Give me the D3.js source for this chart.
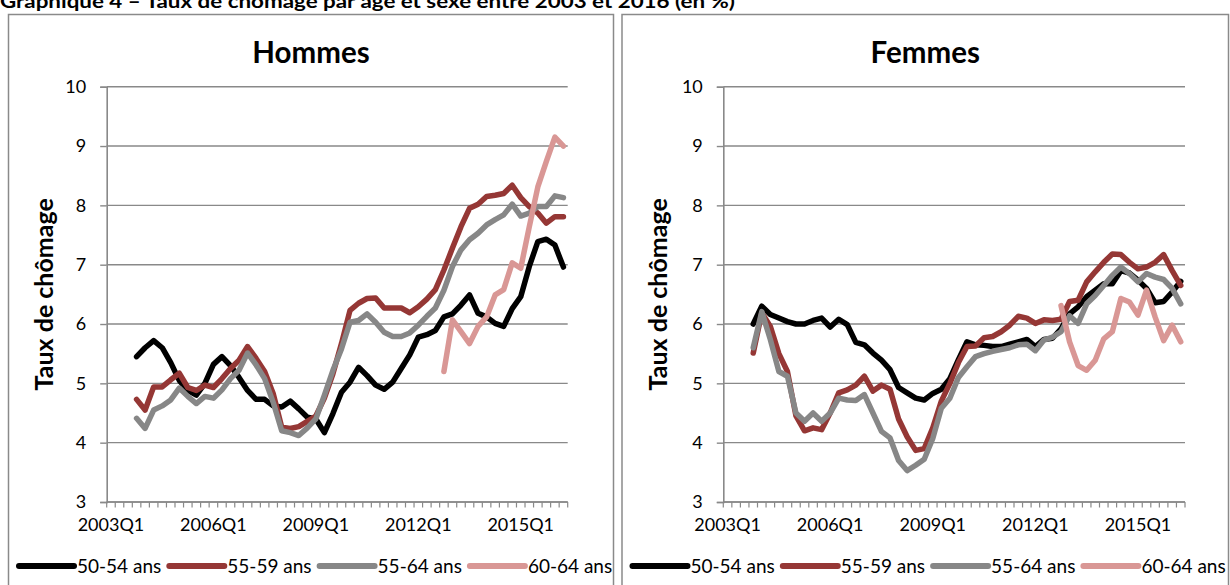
<!DOCTYPE html>
<html><head><meta charset="utf-8">
<script src="https://cdn.jsdelivr.net/npm/d3@7"></script>
<style>
body{margin:0;background:#fff}
svg{display:block}
text{font-family:Lato,"Open Sans",sans-serif;fill:#000}
</style>
</head><body>
<svg id="c" width="1230" height="585"></svg>
<script>
// ---------------- DATA ----------------
const categories = ["2003Q1","2003Q2","2003Q3","2003Q4","2004Q1","2004Q2","2004Q3","2004Q4",
 "2005Q1","2005Q2","2005Q3","2005Q4","2006Q1","2006Q2","2006Q3","2006Q4",
 "2007Q1","2007Q2","2007Q3","2007Q4","2008Q1","2008Q2","2008Q3","2008Q4",
 "2009Q1","2009Q2","2009Q3","2009Q4","2010Q1","2010Q2","2010Q3","2010Q4",
 "2011Q1","2011Q2","2011Q3","2011Q4","2012Q1","2012Q2","2012Q3","2012Q4",
 "2013Q1","2013Q2","2013Q3","2013Q4","2014Q1","2014Q2","2014Q3","2014Q4",
 "2015Q1","2015Q2","2015Q3","2015Q4","2016Q1","2016Q2"];
const xTickLabels = ["2003Q1","2006Q1","2009Q1","2012Q1","2015Q1"];
const yTicks = [3,4,5,6,7,8,9,10];
const seriesNames = ["50-54 ans","55-59 ans","55-64 ans","60-64 ans"];
const panelTitles = ["Hommes","Femmes"];
const yTitle = "Taux de chômage";
const chartTitle = "Graphique 4 – Taux de chômage par âge et sexe entre 2003 et 2016 (en %)";
const startMain = "2003Q4";   // first quarter of the 50-54, 55-59, 55-64 series
const start6064 = "2012Q4";   // first quarter of the 60-64 series

const hommes5054 = [5.45,5.6,5.72,5.6,5.35,5.05,4.88,4.8,5.0,5.32,
 5.45,5.3,5.1,4.88,4.73,4.73,4.62,4.6,4.7,4.57,
 4.43,4.4,4.17,4.49,4.85,5.02,5.27,5.13,4.97,4.9,
 5.02,5.25,5.48,5.78,5.82,5.89,6.12,6.17,6.32,6.49,
 6.18,6.12,6.01,5.96,6.26,6.46,6.97,7.39,7.43,7.33,6.96];
const hommes5559 = [4.73,4.55,4.94,4.94,5.06,5.17,4.93,4.88,4.97,4.93,
 5.08,5.25,5.39,5.62,5.42,5.2,4.83,4.26,4.24,4.27,
 4.36,4.45,4.75,5.16,5.67,6.23,6.35,6.43,6.44,6.27,
 6.27,6.27,6.19,6.29,6.42,6.58,6.91,7.28,7.64,7.95,
 8.02,8.15,8.17,8.2,8.34,8.13,7.98,7.87,7.7,7.81,7.81];
const hommes5564 = [4.41,4.24,4.55,4.62,4.72,4.92,4.78,4.66,4.78,4.75,
 4.89,5.08,5.22,5.51,5.31,5.08,4.68,4.2,4.17,4.12,
 4.25,4.4,4.8,5.22,5.58,6.03,6.06,6.17,6.03,5.86,
 5.79,5.79,5.85,5.98,6.13,6.27,6.57,6.97,7.25,7.42,
 7.53,7.67,7.76,7.84,8.02,7.82,7.87,7.98,7.98,8.16,8.13];
const hommes6064 = [5.2,6.07,5.87,5.67,5.96,6.12,6.49,6.58,7.03,6.94,7.64,8.31,8.74,9.15,9.0];

const femmes5054 = [6.0,6.3,6.16,6.1,6.04,6.0,6.0,6.06,6.1,5.95,
 6.08,5.99,5.69,5.65,5.51,5.39,5.23,4.93,4.84,4.75,
 4.72,4.83,4.9,5.08,5.4,5.7,5.65,5.64,5.62,5.62,
 5.66,5.7,5.74,5.62,5.74,5.76,5.92,6.17,6.29,6.46,
 6.57,6.68,6.68,6.9,6.86,6.74,6.6,6.36,6.38,6.54,6.72];
const femmes5559 = [5.51,6.19,5.96,5.5,5.2,4.45,4.2,4.25,4.22,4.5,
 4.84,4.89,4.97,5.12,4.87,4.97,4.9,4.4,4.1,3.87,
 3.9,4.25,4.7,5.0,5.35,5.62,5.63,5.77,5.79,5.87,
 5.98,6.13,6.1,6.01,6.07,6.06,6.08,6.38,6.4,6.71,
 6.88,7.04,7.18,7.17,7.04,6.93,6.96,7.04,7.17,6.9,6.65];
const femmes5564 = [5.6,6.21,5.74,5.2,5.12,4.5,4.36,4.5,4.36,4.5,
 4.75,4.72,4.71,4.81,4.5,4.19,4.08,3.7,3.53,3.62,
 3.72,4.07,4.58,4.75,5.1,5.28,5.45,5.5,5.54,5.57,
 5.6,5.65,5.66,5.55,5.73,5.78,5.87,6.14,6.01,6.34,
 6.48,6.65,6.82,6.96,6.85,6.71,6.85,6.79,6.75,6.6,6.34];
const femmes6064 = [6.31,5.7,5.3,5.22,5.39,5.75,5.87,6.43,6.37,6.15,6.57,6.12,5.72,5.98,5.7];

const colors = ["#000000","#953735","#878787","#D99795"];

// ---------------- LAYOUT ----------------
const W = 1230, H = 585;
const svg = d3.select("#c");
svg.append("rect").attr("width",W).attr("height",H).attr("fill","#fff");

const gridColor = "#898989";
const plotTop = 86.7, plotBottom = 502;
const panels = [
  {title: panelTitles[0], frameX0: 8.5, frameX1: 613.5, px0: 106.7, px1: 567.7,
   data: [hommes5054, hommes5559, hommes5564, hommes6064]},
  {title: panelTitles[1], frameX0: 622, frameX1: 1228.5, px0: 723.3, px1: 1185,
   data: [femmes5054, femmes5559, femmes5564, femmes6064]}
];
const starts = [startMain, startMain, startMain, start6064];

// chart title (cut at the top like the original)
svg.append("text").attr("x", 0).attr("y", 8)
  .attr("font-size", 19).attr("font-weight", 700)
  .attr("textLength", 735).attr("lengthAdjust", "spacingAndGlyphs")
  .text(chartTitle);

const y = d3.scaleLinear().domain([3, 10]).range([plotBottom, plotTop]);

panels.forEach(p => {
  const g = svg.append("g");
  // frame
  g.append("rect").attr("x", p.frameX0).attr("y", 14.5)
    .attr("width", p.frameX1 - p.frameX0).attr("height", 600)
    .attr("fill", "none").attr("stroke", "#8a8a8a").attr("stroke-width", 1.5);

  const x = d3.scaleBand().domain(categories).range([p.px0, p.px1]).padding(0);
  const cx = c => x(c) + x.bandwidth() / 2;

  // gridlines
  g.append("g").selectAll("line").data(yTicks).join("line")
    .attr("x1", p.px0).attr("x2", p.px1)
    .attr("y1", d => y(d)).attr("y2", d => y(d))
    .attr("stroke", gridColor).attr("stroke-width", 1.4);

  // y axis
  const ya = g.append("g").attr("transform", `translate(${p.px0},0)`)
    .call(d3.axisLeft(y).tickValues(yTicks).tickSize(6.5).tickPadding(14).tickFormat(d3.format("d")));
  ya.select(".domain").attr("stroke", gridColor).attr("stroke-width", 1.6);
  ya.selectAll(".tick line").attr("stroke", gridColor).attr("stroke-width", 1.4);
  ya.selectAll(".tick text").attr("font-size", 18).attr("font-family", "Lato").attr("fill", "#000");

  // x axis line + category ticks
  g.append("line").attr("x1", p.px0).attr("x2", p.px1)
    .attr("y1", plotBottom).attr("y2", plotBottom)
    .attr("stroke", gridColor).attr("stroke-width", 1.6);
  const bounds = categories.map(c => x(c)).concat([p.px1]);
  g.append("g").selectAll("line").data(bounds).join("line")
    .attr("x1", d => d).attr("x2", d => d)
    .attr("y1", plotBottom).attr("y2", plotBottom + 5.5)
    .attr("stroke", gridColor).attr("stroke-width", 1.2);
  g.append("g").selectAll("text").data(xTickLabels).join("text")
    .attr("x", d => cx(d)).attr("y", 531)
    .attr("text-anchor", "middle").attr("font-size", 18)
    .text(d => d);

  // y title
  g.append("text")
    .attr("transform", `translate(${p.frameX0 + 36},${(plotTop + plotBottom) / 2}) rotate(-90)`)
    .attr("text-anchor", "middle").attr("dy", "0.35em")
    .attr("font-size", 25).attr("font-weight", 700)
    .text(yTitle);

  // panel title
  g.append("text").attr("x", (p.frameX0 + p.frameX1) / 2).attr("y", 63)
    .attr("text-anchor", "middle").attr("font-size", 29.5).attr("font-weight", 700)
    .text(p.title);

  // series
  const line = d3.line().defined(d => d.v != null).x(d => cx(d.c)).y(d => y(d.v));
  p.data.forEach((vals, si) => {
    const s0 = categories.indexOf(starts[si]);
    const pts = vals.map((v, k) => ({c: categories[s0 + k], v}));
    g.append("path").datum(pts).attr("d", line)
      .attr("fill", "none").attr("stroke", colors[si])
      .attr("stroke-width", 5.5).attr("stroke-linejoin", "round").attr("stroke-linecap", "round");
  });

  // legend
  const lg = g.append("g");
  const legY = 566;
  seriesNames.forEach((name, si) => {
    const lx = p.frameX0 + 10.5 + si * 150.3;
    lg.append("line").attr("x1", lx).attr("x2", lx + 55)
      .attr("y1", legY).attr("y2", legY)
      .attr("stroke", colors[si]).attr("stroke-width", 6).attr("stroke-linecap", "round");
    lg.append("text").attr("x", lx + 58).attr("y", legY).attr("dy", "0.36em")
      .attr("font-size", 19).text(name);
  });
});
</script>
</body></html>
